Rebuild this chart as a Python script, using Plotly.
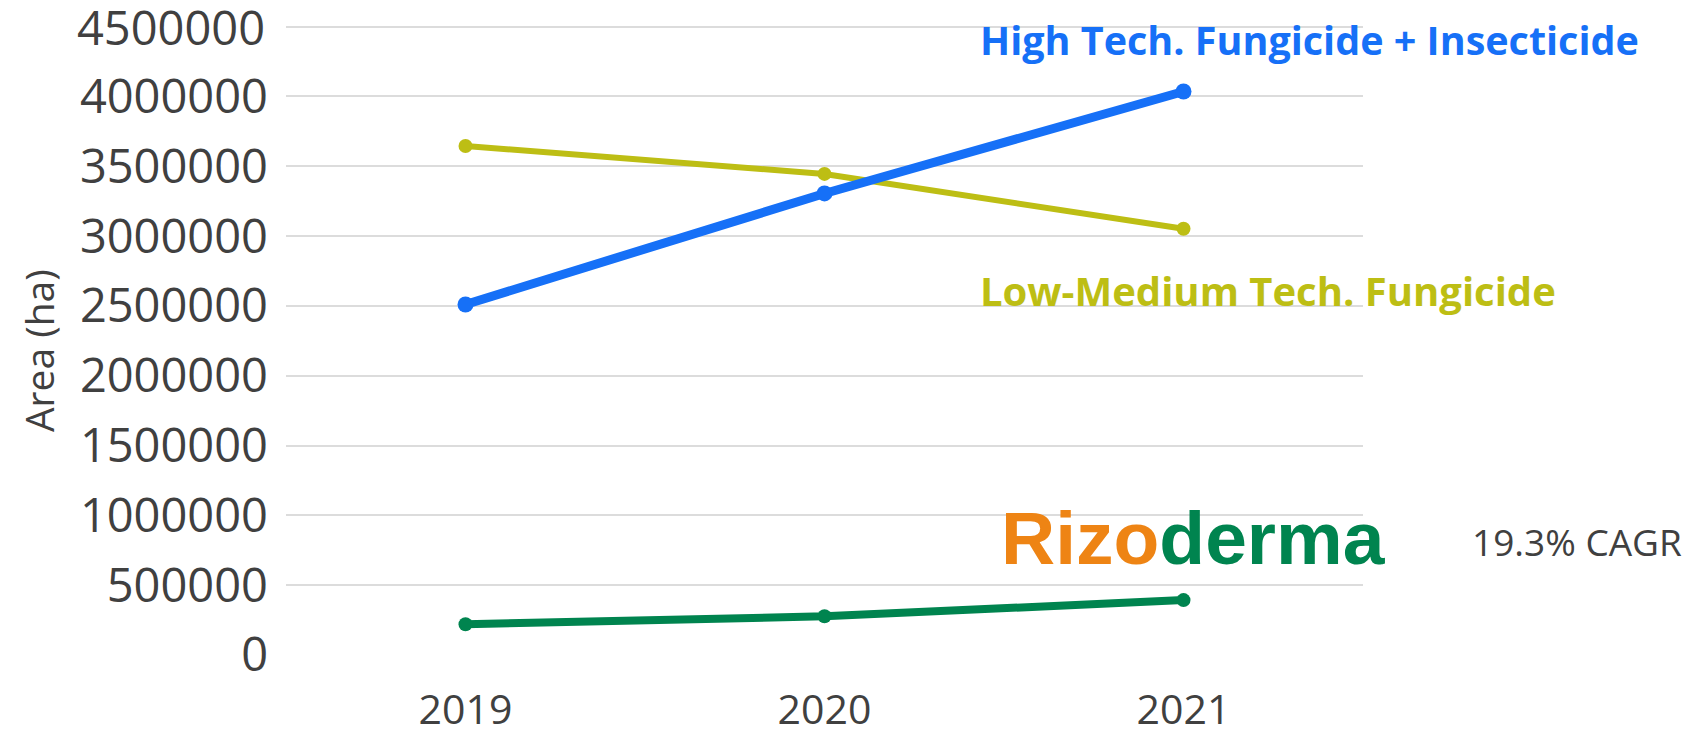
import plotly.graph_objects as go

years = ["2019", "2020", "2021"]
high_tech = [2510000, 3305000, 4035000]
low_medium = [3645000, 3445000, 3052000]
rizoderma = [220000, 277000, 393000]
y_top = 4500000

BLUE = "#1670F7"
OLIVE = "#BDBE14"
GREEN = "#00844F"
ORANGE = "#EE8414"
TXT = "#404040"

# page body has an 8px margin, so the figure is 8px smaller each way
W, H = 1686, 729
PL, PR, PB = 286, 1363, 654.7   # plot box in page pixels
PX_PER_M = 139.56                 # pixels per 1,000,000 ha
YMAX = 4540000
PT = PB - YMAX / 1e6 * PX_PER_M


def px(x):
    return (x - PL) / (PR - PL)


def py(y):
    return (PB - y) / (PB - PT)


fig = go.Figure()

fig.add_trace(go.Scatter(x=years, y=low_medium, mode="lines+markers",
                         line=dict(color=OLIVE, width=6), marker=dict(size=14, color=OLIVE)))
fig.add_trace(go.Scatter(x=years, y=high_tech, mode="lines+markers",
                         line=dict(color=BLUE, width=9), marker=dict(size=16, color=BLUE)))
fig.add_trace(go.Scatter(x=years, y=rizoderma, mode="lines+markers",
                         line=dict(color=GREEN, width=8), marker=dict(size=14, color=GREEN)))

# white box behind the logo hides the gridline, like the pasted picture does
fig.add_shape(type="rect", xref="paper", yref="y", x0=px(960), x1=1.2, y0=700000, y1=1080000,
              fillcolor="white", line_width=0, layer="between")

fig.update_layout(
    width=W, height=H,
    paper_bgcolor="white", plot_bgcolor="white",
    showlegend=False,
    margin=dict(l=PL - 8, r=W - (PR - 8), t=PT - 8, b=H - (PB - 8), autoexpand=False),
    xaxis=dict(type="category", range=[-0.5, 2.5], showgrid=False, zeroline=False,
               showline=False, ticks="", ticklabelstandoff=27,
               tickfont=dict(family="Open Sans", size=41, color=TXT)),
    yaxis=dict(range=[0, YMAX], dtick=500000, tickformat="d",
               showgrid=True, gridcolor="#DCDCDC", gridwidth=2, zeroline=False,
               showline=False, ticks="", ticklabelstandoff=17,
               tickfont=dict(family="Open Sans", size=47, color=TXT)),
    annotations=[
        # top tick label sits at the page edge, where plotly drops it
        dict(text=str(y_top), xref="paper", yref="y", x=px(267), y=y_top,
             xanchor="right", yanchor="middle", showarrow=False,
             font=dict(family="Open Sans", size=47, color=TXT)),
        dict(text="Area (ha)", xref="paper", yref="paper", x=px(38), y=py(351),
             textangle=-90, xanchor="center", yanchor="middle", showarrow=False,
             font=dict(family="Open Sans", size=39, color=TXT)),
        dict(text="<b>High Tech. Fungicide + Insecticide</b>", xref="paper", yref="paper",
             x=px(978), y=py(40), xanchor="left", yanchor="middle", showarrow=False,
             font=dict(family="Open Sans", size=39.5, color=BLUE)),
        dict(text="<b>Low-Medium Tech. Fungicide</b>", xref="paper", yref="paper",
             x=px(978), y=py(290), xanchor="left", yanchor="middle",
             showarrow=False, font=dict(family="Open Sans", size=40, color=OLIVE)),
        dict(text="<b><span style='color:%s'>Rizo</span><span style='color:%s'>derma</span></b>" % (ORANGE, GREEN),
             xref="paper", yref="paper", x=px(999), y=py(538),
             xanchor="left", yanchor="middle", showarrow=False,
             font=dict(family="Liberation Sans", size=75, color=GREEN)),
        dict(text="19.3% CAGR", xref="paper", yref="paper",
             x=px(1470), y=py(541), xanchor="left", yanchor="middle",
             showarrow=False, font=dict(family="Open Sans", size=37, color=TXT)),
    ],
)

fig.write_html("out.html")
